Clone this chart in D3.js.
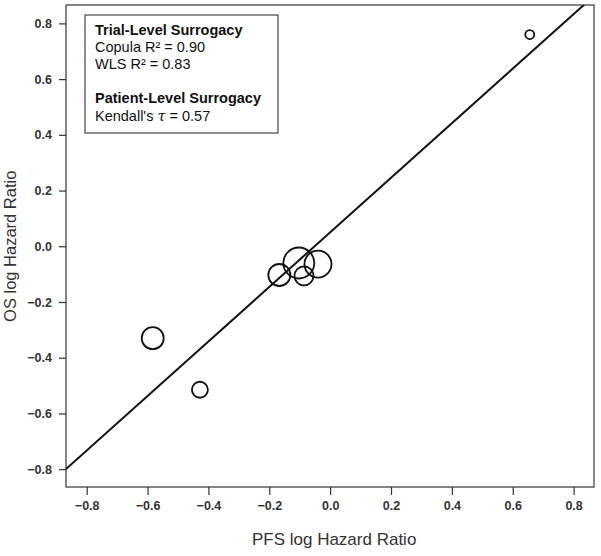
<!DOCTYPE html>
<html>
<head>
<meta charset="utf-8">
<script src="https://cdn.jsdelivr.net/npm/d3@7"></script>
<style>
  body { margin: 0; background: #fff; }
  svg text { font-family: "Liberation Sans", Arial, sans-serif; }
</style>
</head>
<body>
<div id="chart"></div>
<script>
// Trial-level points: PFS log HR (x), OS log HR (y), relative trial size
const pfsLogHR = [-0.583, -0.428, -0.167, -0.103, -0.086, -0.040, 0.656];
const osLogHR  = [-0.330, -0.515, -0.103, -0.060, -0.106, -0.064, 0.760];
const trialSize = [11, 8, 11, 15.5, 9.5, 13.5, 4.5];

// fitted regression line (intercept, slope)
const fitLine = [0.050, 0.979];

const tickValues = [-0.8, -0.6, -0.4, -0.2, 0.0, 0.2, 0.4, 0.6, 0.8];

const legendLines = [
  {text: "Trial-Level Surrogacy", bold: true},
  {text: "Copula R² = 0.90"},
  {text: "WLS R² = 0.83"},
  {text: ""},
  {text: "Patient-Level Surrogacy", bold: true},
  {text: "Kendall's ", tau: " = 0.57"}
];

const width = 601, height = 556;
const margin = {top: 5, right: 7, bottom: 69, left: 66};

const svg = d3.select("#chart").append("svg")
  .attr("width", width)
  .attr("height", height);

const x = d3.scaleLinear()
  .domain([-0.868, 0.867])
  .range([margin.left, width - margin.right]);

const y = d3.scaleLinear()
  .domain([-0.864, 0.866])
  .range([height - margin.bottom, margin.top]);

const r = d3.scaleLinear().domain([0, 1]).range([0, 1]);

// plot box
svg.append("rect")
  .attr("x", margin.left)
  .attr("y", margin.top)
  .attr("width", width - margin.left - margin.right)
  .attr("height", height - margin.top - margin.bottom)
  .attr("fill", "none")
  .attr("stroke", "#333")
  .attr("stroke-width", 1.2);

// X axis
const xAxis = svg.append("g")
  .attr("transform", `translate(0,${height - margin.bottom})`)
  .call(d3.axisBottom(x).tickValues(tickValues).tickSize(8).tickPadding(6)
    .tickFormat(d3.format(".1f")));
xAxis.select(".domain").remove();

// Y axis
const yAxis = svg.append("g")
  .attr("transform", `translate(${margin.left},0)`)
  .call(d3.axisLeft(y).tickValues(tickValues).tickSize(7).tickPadding(7)
    .tickFormat(d3.format(".1f")));
yAxis.select(".domain").remove();

svg.selectAll(".tick line").attr("stroke", "#333").attr("stroke-width", 1.2);
svg.selectAll(".tick text")
  .attr("fill", "#333")
  .style("font-size", "12.5px")
  .style("font-weight", "bold");

// axis titles
svg.append("text")
  .attr("x", x(0) + 4)
  .attr("y", 545)
  .attr("text-anchor", "middle")
  .attr("fill", "#333")
  .style("font-size", "17px")
  .text("PFS log Hazard Ratio");

svg.append("text")
  .attr("transform", `translate(16,${y(0)}) rotate(-90)`)
  .attr("text-anchor", "middle")
  .attr("fill", "#333")
  .style("font-size", "16.5px")
  .text("OS log Hazard Ratio");

// clip for the fitted line
svg.append("clipPath").attr("id", "plot-clip")
  .append("rect")
  .attr("x", margin.left)
  .attr("y", margin.top)
  .attr("width", width - margin.left - margin.right)
  .attr("height", height - margin.top - margin.bottom);

const xs = x.domain();
svg.append("line")
  .attr("clip-path", "url(#plot-clip)")
  .attr("x1", x(xs[0]))
  .attr("y1", y(fitLine[0] + fitLine[1] * xs[0]))
  .attr("x2", x(xs[1]))
  .attr("y2", y(fitLine[0] + fitLine[1] * xs[1]))
  .attr("stroke", "#111")
  .attr("stroke-width", 2);

// trial circles
const points = pfsLogHR.map((d, i) => ({pfs: d, os: osLogHR[i], size: trialSize[i]}));
svg.selectAll(".dot")
  .data(points)
  .enter().append("circle")
  .attr("class", "dot")
  .attr("cx", d => x(d.pfs))
  .attr("cy", d => y(d.os))
  .attr("r", d => r(d.size))
  .attr("fill", "none")
  .attr("stroke", "#111")
  .attr("stroke-width", 1.8);

// legend box
svg.append("rect")
  .attr("x", 85)
  .attr("y", 15)
  .attr("width", 193)
  .attr("height", 118)
  .attr("fill", "#fff")
  .attr("stroke", "#444")
  .attr("stroke-width", 1.2);

const legend = svg.append("g");
legendLines.forEach((l, i) => {
  const t = legend.append("text")
    .attr("x", 95)
    .attr("y", 35 + i * 17.1)
    .attr("fill", "#111")
    .style("font-size", "14.5px")
    .style("font-weight", l.bold ? "bold" : "normal");
  t.append("tspan").text(l.text);
  if (l.tau) {
    t.append("tspan")
      .style("font-family", "'DejaVu Serif', serif")
      .style("font-style", "italic")
      .text("τ");
    t.append("tspan").text(l.tau);
  }
});
</script>
</body>
</html>
